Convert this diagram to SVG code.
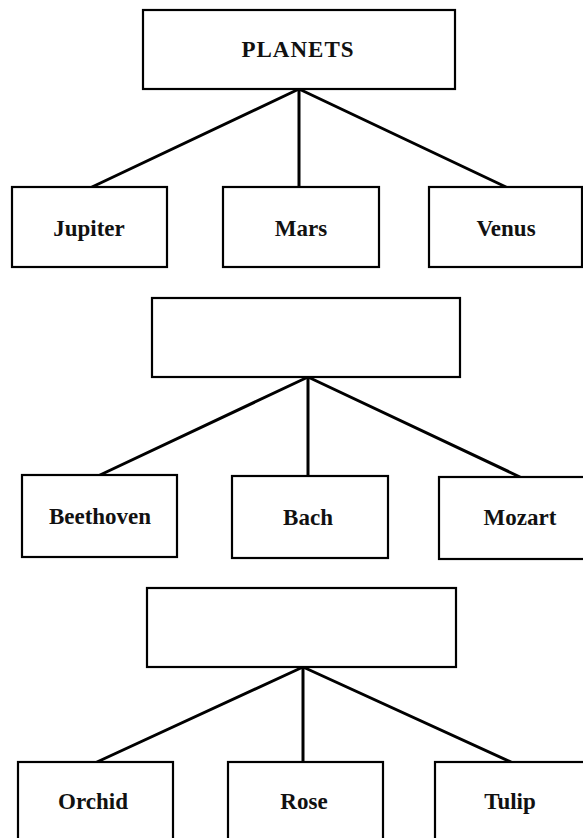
<svg xmlns="http://www.w3.org/2000/svg" width="583" height="838" viewBox="0 0 583 838">
<style>
  .box { fill: #ffffff; stroke: #000000; stroke-width: 2.2; }
  .lbl { font-family: "Liberation Serif", "DejaVu Serif", serif; font-weight: bold; font-size: 23px; fill: #111111; text-anchor: middle; }
  .conn line { stroke: #000000; stroke-width: 3; stroke-linecap: round; }
</style>
<rect width="583" height="838" fill="#ffffff"/>
<g id="connectors" class="conn">
  <line x1="299" y1="89" x2="92" y2="187"/>
  <line x1="299" y1="89" x2="299" y2="187"/>
  <line x1="299" y1="89" x2="506" y2="187"/>
  <line x1="308" y1="377" x2="100" y2="475"/>
  <line x1="308" y1="377" x2="308" y2="476"/>
  <line x1="308" y1="377" x2="520" y2="477"/>
  <line x1="303" y1="667" x2="97" y2="762"/>
  <line x1="303" y1="667" x2="303" y2="762"/>
  <line x1="303" y1="667" x2="511" y2="762"/>
</g>
<g id="planets">
  <rect class="box" x="143" y="10" width="312" height="79"/>
  <text class="lbl" x="298" y="57" font-size="23" letter-spacing="1">PLANETS</text>
</g>
<g id="jupiter">
  <rect class="box" x="12" y="187" width="155" height="80"/>
  <text class="lbl" x="89" y="236">Jupiter</text>
</g>
<g id="mars">
  <rect class="box" x="223" y="187" width="156" height="80"/>
  <text class="lbl" x="301" y="236">Mars</text>
</g>
<g id="venus">
  <rect class="box" x="429" y="187" width="153" height="80"/>
  <text class="lbl" x="506" y="236">Venus</text>
</g>
<g id="composers">
  <rect class="box" x="152" y="298" width="308" height="79"/>
</g>
<g id="beethoven">
  <rect class="box" x="22" y="475" width="155" height="82"/>
  <text class="lbl" x="100" y="524">Beethoven</text>
</g>
<g id="bach">
  <rect class="box" x="232" y="476" width="156" height="82"/>
  <text class="lbl" x="308" y="525">Bach</text>
</g>
<g id="mozart">
  <rect class="box" x="439" y="477" width="160" height="82"/>
  <text class="lbl" x="520" y="525">Mozart</text>
</g>
<g id="flowers">
  <rect class="box" x="147" y="588" width="309" height="79"/>
</g>
<g id="orchid">
  <rect class="box" x="18" y="762" width="155" height="90"/>
  <text class="lbl" x="93" y="809">Orchid</text>
</g>
<g id="rose">
  <rect class="box" x="228" y="762" width="155" height="90"/>
  <text class="lbl" x="304" y="809">Rose</text>
</g>
<g id="tulip">
  <rect class="box" x="435" y="762" width="155" height="90"/>
  <text class="lbl" x="510" y="809">Tulip</text>
</g>
</svg>
